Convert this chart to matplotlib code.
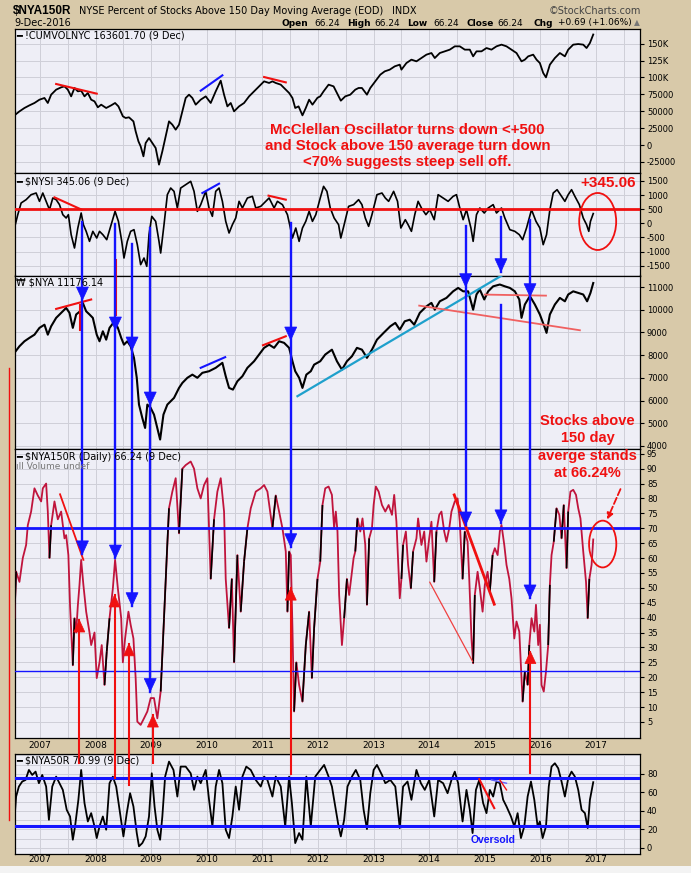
import numpy as np
import matplotlib
matplotlib.use("Agg")
import matplotlib.pyplot as plt
from matplotlib.collections import LineCollection
from matplotlib.lines import Line2D
from matplotlib.patches import Polygon, Ellipse, Rectangle
from matplotlib.ticker import FixedLocator, FixedFormatter, MultipleLocator
from matplotlib import font_manager

# ---- data (decimal year, value) ----
CUMVOL = [
    (2006.54, 44000), (2006.63, 49900), (2006.72, 54900), (2006.81, 58800), (2006.90, 62300),
    (2006.99, 67200), (2007.08, 69700), (2007.14, 62300), (2007.20, 74600), (2007.29, 82000),
    (2007.38, 85450), (2007.44, 86900), (2007.50, 82000), (2007.56, 72100), (2007.62, 84500),
    (2007.68, 79500), (2007.74, 80500), (2007.80, 72100), (2007.86, 77100), (2007.92, 67200),
    (2007.98, 64700), (2008.04, 55900), (2008.10, 59800), (2008.19, 54900), (2008.28, 58800),
    (2008.35, 62300), (2008.41, 57300), (2008.49, 42600), (2008.54, 40100), (2008.60, 41100),
    (2008.68, 35100), (2008.72, 20400), (2008.77, 5600), (2008.81, -1800), (2008.86, -16600),
    (2008.90, 3100), (2008.96, 10500), (2009.02, 3100), (2009.08, -4300), (2009.14, -28900),
    (2009.20, -9200), (2009.26, 13000), (2009.32, 35100), (2009.38, 30200), (2009.44, 22800),
    (2009.50, 30200), (2009.56, 49900), (2009.62, 69700), (2009.68, 74600), (2009.74, 69700),
    (2009.80, 59800), (2009.89, 67200), (2009.98, 72100), (2010.07, 62300), (2010.16, 79500),
    (2010.25, 95300), (2010.31, 74600), (2010.37, 57300), (2010.43, 62300), (2010.49, 49900),
    (2010.58, 57300), (2010.67, 62300), (2010.76, 72100), (2010.85, 79500), (2010.94, 86900),
    (2011.03, 94300), (2011.12, 91900), (2011.18, 94300), (2011.24, 91900), (2011.33, 89400),
    (2011.39, 84500), (2011.48, 77100), (2011.54, 69700), (2011.59, 54900), (2011.65, 57300),
    (2011.72, 44000), (2011.78, 54900), (2011.84, 67200), (2011.90, 59800), (2011.99, 70000),
    (2012.04, 72100), (2012.10, 79500), (2012.19, 89400), (2012.28, 86900), (2012.34, 77100),
    (2012.41, 65700), (2012.49, 72100), (2012.58, 74600), (2012.67, 82000), (2012.73, 84500),
    (2012.79, 84500), (2012.88, 74600), (2012.94, 84500), (2013.03, 94300), (2013.12, 104200),
    (2013.20, 109100), (2013.29, 111600), (2013.38, 116500), (2013.47, 119000), (2013.50, 111600),
    (2013.59, 121400), (2013.68, 126400), (2013.77, 123900), (2013.86, 128800), (2013.95, 133800),
    (2014.04, 136200), (2014.10, 128800), (2014.19, 136200), (2014.28, 138700), (2014.37, 141200),
    (2014.46, 146100), (2014.55, 146100), (2014.64, 141200), (2014.73, 141200), (2014.79, 131300),
    (2014.85, 138700), (2014.94, 138700), (2015.03, 143600), (2015.12, 141200), (2015.21, 146100),
    (2015.30, 148600), (2015.39, 146100), (2015.48, 141200), (2015.57, 136200), (2015.66, 123900),
    (2015.72, 126400), (2015.78, 131300), (2015.87, 133800), (2015.93, 126400), (2015.99, 121400),
    (2016.05, 106700), (2016.10, 100200), (2016.17, 119000), (2016.26, 128800), (2016.35, 136200),
    (2016.44, 131300), (2016.50, 141200), (2016.59, 148600), (2016.68, 149500), (2016.77, 148600),
    (2016.83, 143600), (2016.89, 151000), (2016.95, 163601.70),
]

NYSI = [
    (2006.54, -167), (2006.60, 306), (2006.66, 720), (2006.75, 838), (2006.84, 1015),
    (2006.93, 1074), (2006.99, 779), (2007.05, 1074), (2007.11, 779), (2007.17, 483),
    (2007.23, 897), (2007.29, 838), (2007.35, 661), (2007.41, 306), (2007.47, 188),
    (2007.51, 306), (2007.56, -403), (2007.62, -876), (2007.68, -167), (2007.74, 365),
    (2007.78, -49), (2007.83, -285), (2007.89, -640), (2007.95, -285), (2008.02, -522),
    (2008.07, -285), (2008.13, -403), (2008.20, -581), (2008.28, -49), (2008.35, 424),
    (2008.41, 69), (2008.47, -640), (2008.51, -1231), (2008.57, -640), (2008.63, -285),
    (2008.69, -226), (2008.75, -758), (2008.81, -1467), (2008.87, -1231), (2008.92, -1526),
    (2008.96, -403), (2009.01, 247), (2009.08, 69), (2009.14, -640), (2009.17, -1054),
    (2009.23, -49), (2009.29, 1015), (2009.35, 1251), (2009.41, 1133), (2009.47, 542),
    (2009.53, 1251), (2009.62, 1369), (2009.71, 1488), (2009.77, 1133), (2009.83, 424),
    (2009.89, 661), (2009.98, 1133), (2010.04, 542), (2010.10, 247), (2010.16, 1133),
    (2010.22, 1251), (2010.28, 779), (2010.34, 69), (2010.40, -344), (2010.46, -49),
    (2010.52, 188), (2010.58, 779), (2010.64, 542), (2010.73, 897), (2010.82, 956),
    (2010.88, 542), (2010.97, 601), (2011.06, 779), (2011.12, 897), (2011.21, 542),
    (2011.27, 779), (2011.36, 661), (2011.45, 306), (2011.49, -49), (2011.54, -522),
    (2011.60, -167), (2011.66, -640), (2011.72, -167), (2011.78, 69), (2011.84, 424),
    (2011.90, 69), (2011.96, 306), (2012.04, 897), (2012.10, 1310), (2012.16, 1133),
    (2012.22, 542), (2012.29, 188), (2012.37, -49), (2012.41, -522), (2012.47, -49),
    (2012.55, 601), (2012.64, 661), (2012.73, 838), (2012.79, 661), (2012.85, 188),
    (2012.91, -108), (2012.97, 306), (2013.06, 1015), (2013.15, 1074), (2013.21, 897),
    (2013.27, 779), (2013.36, 1133), (2013.43, 779), (2013.49, -167), (2013.57, 128),
    (2013.62, -49), (2013.68, -285), (2013.74, 306), (2013.80, 779), (2013.86, 542),
    (2013.94, 306), (2014.01, 483), (2014.09, 128), (2014.16, 1015), (2014.25, 897),
    (2014.34, 779), (2014.43, 956), (2014.49, 1015), (2014.55, 542), (2014.61, 128),
    (2014.67, 483), (2014.75, -167), (2014.79, -640), (2014.85, 306), (2014.91, 542),
    (2014.99, 365), (2015.06, 542), (2015.15, 661), (2015.21, 365), (2015.30, 542),
    (2015.36, 188), (2015.45, -226), (2015.54, -285), (2015.62, -403), (2015.68, -581),
    (2015.75, -167), (2015.84, 483), (2015.92, 69), (2015.99, -167), (2016.05, -758),
    (2016.11, -403), (2016.17, 483), (2016.23, 1074), (2016.30, 1192), (2016.36, 1015),
    (2016.44, 779), (2016.50, 1015), (2016.56, 1192), (2016.62, 956), (2016.70, 661),
    (2016.77, 188), (2016.83, -49), (2016.87, -285), (2016.90, 69), (2016.95, 345.06),
]

NYA = [
    (2006.54, 8100), (2006.63, 8390), (2006.72, 8610), (2006.81, 8760), (2006.90, 8900),
    (2006.99, 9200), (2007.08, 9340), (2007.14, 8900), (2007.20, 9270), (2007.29, 9640),
    (2007.38, 9860), (2007.47, 10080), (2007.53, 9860), (2007.59, 9200), (2007.65, 9790),
    (2007.72, 9930), (2007.77, 10300), (2007.83, 9930), (2007.89, 9790), (2007.95, 9640),
    (2008.02, 8900), (2008.07, 8610), (2008.13, 9050), (2008.19, 8680), (2008.25, 9200),
    (2008.34, 9490), (2008.40, 9200), (2008.46, 8760), (2008.51, 8460), (2008.57, 8610),
    (2008.63, 8390), (2008.69, 7880), (2008.74, 7000), (2008.78, 5820), (2008.84, 5230),
    (2008.89, 4790), (2008.93, 5820), (2008.99, 5675), (2009.05, 5380), (2009.11, 4790),
    (2009.16, 4280), (2009.22, 5380), (2009.29, 5820), (2009.35, 5970), (2009.41, 6115),
    (2009.50, 6555), (2009.56, 6775), (2009.65, 7000), (2009.74, 7140), (2009.83, 7000),
    (2009.92, 7220), (2010.04, 7290), (2010.16, 7440), (2010.28, 7660), (2010.34, 7070),
    (2010.40, 6555), (2010.47, 6480), (2010.55, 6850), (2010.64, 7070), (2010.73, 7440),
    (2010.85, 7730), (2010.94, 8025), (2011.03, 8320), (2011.12, 8460), (2011.21, 8320),
    (2011.30, 8610), (2011.39, 8540), (2011.48, 8320), (2011.54, 7730), (2011.59, 7290),
    (2011.66, 7000), (2011.72, 6555), (2011.79, 7140), (2011.87, 7290), (2011.93, 7580),
    (2012.04, 7730), (2012.13, 8025), (2012.25, 8240), (2012.34, 7730), (2012.43, 7360),
    (2012.52, 7730), (2012.61, 7950), (2012.70, 8320), (2012.79, 8240), (2012.88, 7880),
    (2012.97, 8240), (2013.06, 8680), (2013.18, 8980), (2013.30, 9270), (2013.39, 9420),
    (2013.47, 9120), (2013.56, 9490), (2013.65, 9560), (2013.73, 9340), (2013.83, 9860),
    (2013.95, 10150), (2014.04, 10300), (2014.10, 10000), (2014.19, 10370), (2014.31, 10520),
    (2014.43, 10810), (2014.52, 10960), (2014.61, 10810), (2014.70, 10810), (2014.79, 10000),
    (2014.85, 10670), (2014.91, 10890), (2014.99, 10450), (2015.06, 10810), (2015.15, 11030),
    (2015.27, 11110), (2015.36, 11030), (2015.45, 10960), (2015.54, 10810), (2015.62, 10450),
    (2015.66, 9640), (2015.72, 10230), (2015.81, 10600), (2015.90, 10230), (2015.99, 9790),
    (2016.08, 9200), (2016.11, 8980), (2016.17, 9790), (2016.26, 10230), (2016.35, 10520),
    (2016.44, 10370), (2016.50, 10670), (2016.59, 10810), (2016.68, 10740), (2016.77, 10670),
    (2016.84, 10370), (2016.90, 10740), (2016.95, 11176.14),
]

NYA150R = [
    (2006.54, 40), (2006.57, 55.5), (2006.63, 52), (2006.69, 60), (2006.75, 64.4),
    (2006.78, 71), (2006.84, 75.6), (2006.90, 83.4), (2006.96, 81), (2007.02, 79),
    (2007.05, 83.4), (2007.11, 85), (2007.14, 75.6), (2007.17, 60), (2007.20, 71),
    (2007.26, 79), (2007.32, 73), (2007.38, 75.6), (2007.44, 66.6), (2007.47, 67.7),
    (2007.51, 61), (2007.54, 44), (2007.59, 24), (2007.62, 39.8), (2007.65, 35),
    (2007.68, 44), (2007.71, 51), (2007.74, 59.4), (2007.78, 51), (2007.83, 42),
    (2007.89, 35), (2007.92, 30.8), (2007.98, 35), (2008.02, 19.7), (2008.07, 25),
    (2008.11, 30.8), (2008.16, 17.4), (2008.20, 28.6), (2008.25, 39.8), (2008.31, 49.8),
    (2008.35, 59.4), (2008.40, 49.8), (2008.46, 39.8), (2008.49, 25), (2008.53, 33),
    (2008.59, 42), (2008.63, 37.6), (2008.68, 33), (2008.72, 19.7), (2008.75, 5.1),
    (2008.81, 4), (2008.87, 6.2), (2008.93, 8.5), (2008.99, 13), (2009.05, 13),
    (2009.11, 6.2), (2009.17, 15.2), (2009.23, 39.8), (2009.28, 61), (2009.32, 76.7),
    (2009.38, 82.3), (2009.44, 86.8), (2009.50, 68.3), (2009.56, 90), (2009.62, 91.2),
    (2009.71, 92.4), (2009.77, 90), (2009.83, 83.4), (2009.89, 80), (2009.95, 84.5),
    (2010.01, 86.8), (2010.07, 53), (2010.13, 73), (2010.19, 82.3), (2010.25, 86.8),
    (2010.31, 75.6), (2010.34, 53), (2010.40, 36.5), (2010.45, 53), (2010.49, 25),
    (2010.55, 61), (2010.61, 42), (2010.67, 58.8), (2010.73, 70), (2010.79, 76.7),
    (2010.88, 82.3), (2010.97, 83.4), (2011.03, 84.5), (2011.09, 82.3), (2011.18, 70),
    (2011.24, 81), (2011.30, 75.6), (2011.36, 70), (2011.42, 62.2), (2011.45, 42),
    (2011.48, 62.2), (2011.51, 61), (2011.54, 36.5), (2011.57, 8.5), (2011.61, 25),
    (2011.66, 17.4), (2011.72, 11.8), (2011.78, 30.8), (2011.84, 42), (2011.89, 19.7),
    (2011.93, 36.5), (2011.99, 53), (2012.04, 58.8), (2012.08, 77.8), (2012.13, 83.4),
    (2012.19, 84), (2012.25, 81.2), (2012.29, 70), (2012.32, 75.6), (2012.35, 68.9),
    (2012.38, 47.6), (2012.43, 30.8), (2012.47, 39.8), (2012.52, 53), (2012.56, 47.6),
    (2012.61, 55.4), (2012.64, 60), (2012.67, 62.2), (2012.71, 73.3), (2012.76, 68.9),
    (2012.80, 73.3), (2012.85, 64.4), (2012.88, 44.3), (2012.92, 66.6), (2012.97, 70),
    (2013.00, 77.8), (2013.04, 84), (2013.09, 82.3), (2013.15, 77.8), (2013.21, 75.6),
    (2013.27, 77.8), (2013.33, 74.5), (2013.37, 81.2), (2013.41, 72.2), (2013.47, 46.5),
    (2013.50, 53), (2013.53, 64.4), (2013.58, 68.9), (2013.62, 57.7), (2013.67, 49.8),
    (2013.71, 62.2), (2013.77, 66.6), (2013.80, 73.3), (2013.86, 64.4), (2013.91, 68.9),
    (2013.95, 58.8), (2014.00, 66.6), (2014.04, 72.2), (2014.09, 52), (2014.13, 68.9),
    (2014.18, 74.5), (2014.22, 75.6), (2014.27, 68.9), (2014.31, 65.5), (2014.36, 70),
    (2014.40, 75.6), (2014.46, 79), (2014.51, 80), (2014.55, 72.2), (2014.60, 53),
    (2014.64, 68.9), (2014.69, 65.5), (2014.72, 53), (2014.76, 33), (2014.79, 24.7),
    (2014.82, 47.6), (2014.87, 55.4), (2014.91, 49.8), (2014.96, 42), (2015.00, 51),
    (2015.05, 55.4), (2015.09, 48.7), (2015.14, 61), (2015.18, 63.3), (2015.23, 61),
    (2015.27, 68.9), (2015.30, 71.1), (2015.35, 64.4), (2015.39, 57.7), (2015.44, 53),
    (2015.48, 46.5), (2015.53, 33), (2015.57, 38.7), (2015.62, 35.3), (2015.66, 19.7),
    (2015.68, 11.8), (2015.72, 21.9), (2015.77, 17.4), (2015.80, 30.8), (2015.84, 39.8),
    (2015.89, 35.3), (2015.92, 44.3), (2015.96, 30.8), (2015.99, 37.6), (2016.02, 17.4),
    (2016.06, 15.2), (2016.10, 21.9), (2016.14, 30.8), (2016.17, 51), (2016.20, 61),
    (2016.24, 65.5), (2016.29, 76.7), (2016.34, 74.5), (2016.38, 66.6), (2016.42, 77.8),
    (2016.47, 56.6), (2016.50, 75.6), (2016.54, 82.3), (2016.59, 82.9), (2016.64, 81.2),
    (2016.68, 76.7), (2016.72, 73.3), (2016.77, 62.2), (2016.82, 52), (2016.85, 39.8),
    (2016.88, 53), (2016.92, 57.7), (2016.95, 66.24),
]

NYA50R = [
    (2006.54, 30.4), (2006.57, 55.5), (2006.62, 66.3), (2006.68, 71.7), (2006.74, 73.4),
    (2006.80, 84.2), (2006.86, 78.8), (2006.92, 82.4), (2006.98, 69.9), (2007.04, 78.8),
    (2007.11, 66.3), (2007.16, 30.4), (2007.22, 66.3), (2007.29, 77), (2007.35, 69.9),
    (2007.41, 62.7), (2007.48, 41.2), (2007.54, 34), (2007.59, 8.9), (2007.63, 23.3),
    (2007.69, 52), (2007.74, 84.2), (2007.80, 48.4), (2007.86, 28.6), (2007.92, 37.6),
    (2007.98, 23.3), (2008.02, 10.7), (2008.07, 23.3), (2008.13, 34), (2008.19, 19.7),
    (2008.25, 69.9), (2008.31, 77), (2008.37, 66.3), (2008.43, 41.2), (2008.50, 12.5),
    (2008.56, 37.6), (2008.62, 59.1), (2008.68, 44.8), (2008.74, 16.1), (2008.78, 1.8),
    (2008.84, 5.3), (2008.90, 12.5), (2008.96, 34), (2009.01, 80.6), (2009.06, 44.8),
    (2009.11, 19.7), (2009.16, 8.9), (2009.20, 34), (2009.25, 77), (2009.32, 93.2),
    (2009.40, 84.2), (2009.47, 55.5), (2009.53, 87.8), (2009.62, 87.8), (2009.71, 80.6),
    (2009.77, 62.7), (2009.83, 77), (2009.89, 69.9), (2009.98, 84.2), (2010.04, 52),
    (2010.10, 23.3), (2010.16, 66.3), (2010.22, 84.2), (2010.28, 69.9), (2010.34, 19.7),
    (2010.40, 10.7), (2010.46, 34), (2010.52, 66.3), (2010.58, 41.2), (2010.64, 77),
    (2010.71, 87.8), (2010.79, 84.2), (2010.88, 73.4), (2010.97, 66.3), (2011.03, 77),
    (2011.09, 73.4), (2011.18, 55.5), (2011.24, 77), (2011.33, 66.3), (2011.41, 23.3),
    (2011.48, 77), (2011.53, 48.4), (2011.59, 5.3), (2011.66, 16.1), (2011.72, 8.9),
    (2011.79, 77), (2011.87, 23.3), (2011.95, 77), (2012.04, 84.2), (2012.11, 89.6),
    (2012.19, 77), (2012.25, 66.3), (2012.31, 44.8), (2012.37, 23.3), (2012.41, 12.5),
    (2012.47, 30.4), (2012.53, 66.3), (2012.61, 77), (2012.68, 84.2), (2012.76, 73.4),
    (2012.82, 41.2), (2012.88, 20.4), (2012.94, 59.1), (2013.00, 84.2), (2013.06, 89.6),
    (2013.15, 78.8), (2013.21, 69.9), (2013.30, 73.4), (2013.39, 66.3), (2013.47, 21.5),
    (2013.53, 66.3), (2013.61, 71.7), (2013.68, 52), (2013.77, 84.2), (2013.85, 69.9),
    (2013.92, 62.7), (2014.00, 73.4), (2014.09, 34), (2014.16, 73.4), (2014.25, 69.9),
    (2014.33, 59.1), (2014.40, 73.4), (2014.46, 82.4), (2014.52, 69.9), (2014.60, 28.6),
    (2014.67, 62.7), (2014.73, 41.2), (2014.78, 16.1), (2014.84, 62.7), (2014.90, 73.4),
    (2014.97, 48.4), (2015.03, 37.6), (2015.09, 62.7), (2015.15, 55.5), (2015.21, 71.7),
    (2015.27, 69.9), (2015.33, 52), (2015.39, 44.8), (2015.47, 34), (2015.53, 23.3),
    (2015.59, 37.6), (2015.65, 10.7), (2015.71, 23.3), (2015.77, 55.5), (2015.83, 71.7),
    (2015.89, 52), (2015.95, 23.3), (2015.99, 28.6), (2016.04, 10.7), (2016.10, 23.3),
    (2016.15, 66.3), (2016.20, 87.8), (2016.26, 91.4), (2016.32, 86), (2016.38, 71.7),
    (2016.44, 55.5), (2016.50, 75.2), (2016.56, 82.4), (2016.62, 77), (2016.68, 62.7),
    (2016.74, 41.2), (2016.80, 37.6), (2016.85, 21.5), (2016.89, 52), (2016.95, 70.99),
]

YEARS = list(range(2007, 2018))

# ---- look ----
W, H = 691, 873
TAN = "#d8c9a9"
FACE = "#eeeef6"
GRID = "#cfcfd8"
BLUE = "#1414ff"
RED = "#f01010"
CRIMSON = "#c0143c"


def has_font(name):
    try:
        font_manager.findfont(name, fallback_to_default=False)
        return True
    except ValueError:
        return False


SANS = ["Liberation Sans", "DejaVu Sans"]
NARROW = ["Liberation Sans Narrow"] + SANS if has_font("Liberation Sans Narrow") else SANS
NARROW_SCALE = 1.15 if NARROW[0] == "Liberation Sans Narrow" else 1.0
UI = ["DejaVu Sans"]

fig = plt.figure(figsize=(W / 100, H / 100), dpi=100, facecolor=TAN)
L, R = 14.5, 640.0


def px_rect(top, bottom):
    return [L / W, 1 - bottom / H, (R - L) / W, (bottom - top) / H]


def fpx(x, y):
    return x / W, 1 - y / H


panels = [
    ((29.3, 173.3), (-41720, 171300)),
    ((173.3, 275.5), (-1851, 1773)),
    ((275.5, 449.0), (3864, 11507)),
    ((449.0, 738.0), (-0.4, 96.6)),
    ((754.0, 854.3), (-6.8, 101.4)),
]
yticks = [
    [-25000, 0, 25000, 50000, 75000, 100000, 125000, 150000],
    [-1500, -1000, -500, 0, 500, 1000, 1500],
    list(range(4000, 11001, 1000)),
    list(range(5, 96, 5)),
    [0, 20, 40, 60, 80],
]
ylabels = [
    ["-25000", "0", "25000", "50000", "75000", "100K", "125K", "150K"],
    [str(v) for v in yticks[1]],
    [str(v) for v in yticks[2]],
    [str(v) for v in yticks[3]],
    [str(v) for v in yticks[4]],
]

axes = []
for i, ((top, bot), ylim) in enumerate(panels):
    ax = fig.add_axes(px_rect(top, bot), facecolor=FACE)
    ax.set_xlim(2006.541, 2017.791)
    ax.set_ylim(*ylim)
    ax.xaxis.set_major_locator(FixedLocator(YEARS))
    ax.xaxis.set_minor_locator(FixedLocator([y + 0.5 for y in range(2006, 2018)]))
    ax.grid(True, which="both", axis="x", color=GRID, lw=0.7)
    ax.yaxis.set_major_locator(FixedLocator(yticks[i]))
    ax.yaxis.set_major_formatter(FixedFormatter(ylabels[i]))
    if i == 4:
        ax.yaxis.set_minor_locator(MultipleLocator(10))
        ax.grid(True, which="minor", axis="y", color=GRID, lw=0.7)
    ax.grid(True, which="major", axis="y", color=GRID, lw=0.7)
    ax.set_axisbelow(True)
    ax.yaxis.tick_right()
    ax.tick_params(axis="y", which="major", labelsize=6, length=3, pad=2, colors="black")
    ax.tick_params(axis="y", which="minor", length=0)
    ax.tick_params(axis="x", which="both", length=0)
    for lab in ax.get_yticklabels():
        lab.set_family(UI)
    if i in (3, 4):
        ax.set_xticklabels([str(y) for y in YEARS], fontsize=6.5, family=UI)
        ax.tick_params(axis="x", pad=2 if i == 3 else 0.5)
    else:
        ax.set_xticklabels([])
    for s in ax.spines.values():
        s.set_color("black")
        s.set_linewidth(0.9)
    axes.append(ax)

ax1, ax2, ax3, ax4, ax5 = axes


def xy(series):
    t, v = zip(*series)
    return np.array(t), np.array(v)


t, v = xy(CUMVOL)
ax1.plot(t, v, color="black", lw=1.3)
t, v = xy(NYSI)
ax2.plot(t, v, color="black", lw=1.2)
t, v = xy(NYA)
ax3.plot(t, v, color="black", lw=1.5)

t, v = xy(NYA150R)
ax4.plot(t, v, color=CRIMSON, lw=1.3, zorder=3)
segs = [[(t[k], v[k]), (t[k + 1], v[k + 1])] for k in range(len(t) - 1) if v[k + 1] - v[k] > 10]
ax4.add_collection(LineCollection(segs, colors="black", lw=1.2, zorder=3))

t, v = xy(NYA50R)
ax5.plot(t, v, color="black", lw=1.3)

# ---- reference lines / trend lines ----
ax2.axhline(500, color=RED, lw=2, zorder=4)
ax4.axhline(70, color=BLUE, lw=2, zorder=4)
ax4.axhline(22, color=BLUE, lw=1, zorder=4)
ax5.axhline(75, color=BLUE, lw=2.2, zorder=4)
ax5.axhline(24, color=BLUE, lw=2.2, zorder=4)

trend = [
    (ax1, (2007.29, 2008.02), (90400, 76100), RED, 1.5),
    (ax1, (2009.89, 2010.28), (80500, 103200), BLUE, 1.5),
    (ax1, (2011.03, 2011.42), (100700, 92800), RED, 1.5),
    (ax2, (2007.26, 2007.75), (920, 483), RED, 1.5),
    (ax2, (2009.92, 2010.22), (1074, 1405), BLUE, 1.5),
    (ax2, (2011.11, 2011.42), (980, 838), RED, 1.5),
    (ax3, (2007.29, 2007.92), (10035, 10450), RED, 1.5),
    (ax3, (2009.89, 2010.33), (7440, 7910), BLUE, 1.5),
    (ax3, (2011.01, 2011.42), (8435, 8830), RED, 1.5),
    (ax3, (2011.63, 2015.30), (6190, 11500), "#1ea0cc", 1.6),
    (ax3, (2013.82, 2016.71), (10180, 9095), "#f06060", 1.3),
    (ax3, (2015.00, 2016.10), (10666, 10620), "#f06060", 1.3),
    (ax4, (2007.36, 2007.78), (81.4, 59.4), RED, 1.3),
    (ax4, (2014.45, 2015.17), (81.2, 44.5), RED, 2.0),
    (ax4, (2014.01, 2014.78), (51.9, 25.3), "#f04040", 0.9),
    (ax5, (2014.90, 2015.17), (74.2, 43.0), RED, 1.5),
    (ax5, (2015.12, 2015.39), (73.4, 69.9), "#6060ff", 1.0),
    (ax5, (2015.27, 2015.39), (73.4, 62.7), RED, 1.0),
]
for ax, xs, ys, c, lw in trend:
    ax.plot(xs, ys, color=c, lw=lw, zorder=5)

ax2.add_patch(Ellipse((2017.03, 64), 0.665, 2021, fill=False, ec=RED, lw=1.3, zorder=5))
ax4.add_patch(Ellipse((2017.12, 64.7), 0.49, 15.7, fill=False, ec=RED, lw=1.3, zorder=5))
ax4.annotate("", xy=(2017.18, 72.1), xytext=(2017.46, 84.0),
             arrowprops=dict(arrowstyle="-|>", color=RED, lw=1.3, ls="--",
                             mutation_scale=9), zorder=6)

# ---- vertical signal arrows spanning panels ----
fig.canvas.draw()


def fig_xy(ax, x, y):
    return fig.transFigure.inverted().transform(ax.transData.transform((x, y)))


def vseg(x, a0, y0, a1, y1, color, lw):
    p0 = fig_xy(axes[a0], x, y0)
    p1 = fig_xy(axes[a1], x, y1)
    fig.add_artist(Line2D([p0[0], p1[0]], [p0[1], p1[1]], color=color, lw=lw,
                          transform=fig.transFigure, zorder=20))


def head(x, a, y, color, down, w=12, h=13):
    fx, fy = fig_xy(axes[a], x, y)
    dx, dy = w / 2 / W, h / H
    sgn = 1 if down else -1
    pts = [(fx, fy), (fx - dx, fy + sgn * dy), (fx + dx, fy + sgn * dy)]
    fig.add_artist(Polygon(pts, closed=True, fc=color, ec=color, lw=0.5,
                           transform=fig.transFigure, zorder=21))


blue_segs = [
    (2007.763, 1, 57, 3, 61.4), (2008.356, 1, -25, 3, 60), (2008.655, 1, -734, 3, 44),
    (2008.982, 1, -156, 3, 15.2), (2011.509, 1, 0, 3, 63.8), (2014.655, 1, -96, 3, 71.1),
    (2015.290, 1, 234, 1, -1716), (2015.290, 2, 10207, 3, 71.8), (2015.813, 1, 117, 3, 46.6),
]
blue_heads = [
    (2007.763, 2, 10427), (2007.763, 3, 61.4), (2008.356, 2, 9106), (2008.356, 3, 60),
    (2008.655, 2, 8225), (2008.655, 3, 44), (2008.982, 2, 5802), (2008.982, 3, 15.2),
    (2011.509, 2, 8665), (2011.509, 3, 63.8), (2014.655, 2, 11013), (2014.655, 3, 71.1),
    (2015.290, 1, -1716), (2015.290, 3, 71.8), (2015.813, 2, 10573), (2015.813, 3, 46.6),
]
red_segs = [
    (2007.707, 4, 91.7, 3, 39.2), (2008.340, 4, 75.6, 3, 47.6), (2008.600, 4, 68, 3, 31.2),
    (2009.030, 4, 91.7, 3, 7.3), (2011.510, 4, 79.9, 3, 49.9), (2015.820, 4, 81, 3, 28.6),
    (2008.365, 1, -1290, 2, 9767), (2007.722, 2, 10207, 2, 9106),
]
red_heads = [
    (2007.707, 3, 39.2), (2008.340, 3, 47.6), (2008.600, 3, 31.2),
    (2009.030, 3, 7.3), (2011.510, 3, 49.9), (2015.820, 3, 28.6),
]
for s in red_segs:
    vseg(*s, RED, 1.5)
for x, a, y in red_heads:
    head(x, a, y, RED, down=False, w=11, h=12)
for s in blue_segs:
    vseg(*s, BLUE, 1.7)
for x, a, y in blue_heads:
    head(x, a, y, BLUE, down=True)

# red mark along the left edge
fig.add_artist(Line2D([8.5 / W, 8.5 / W], [1 - 368 / H, 1 - 820 / H], color=RED, lw=1,
                      transform=fig.transFigure))

# ---- text ----
fig.text(*fpx(13, 11), "$NYA150R", fontsize=8.5, fontweight="bold", family=SANS, va="center")
fig.text(*fpx(79, 11), "NYSE Percent of Stocks Above 150 Day Moving Average (EOD)",
         fontsize=7, family=UI, va="center")
fig.text(*fpx(392, 11), "INDX", fontsize=7, family=UI, va="center")
fig.text(*fpx(641, 11), "\u00a9StockCharts.com", fontsize=7, family=UI, va="center",
         ha="right", color="#444444")
fig.text(*fpx(14, 23), "9-Dec-2016", fontsize=7, family=UI, va="center")
row = [("Open", True, 282), ("66.24", False, 314), ("High", True, 347), ("66.24", False, 374),
       ("Low", True, 407.5), ("66.24", False, 433), ("Close", True, 467), ("66.24", False, 497),
       ("Chg", True, 534), ("+0.69 (+1.06%)", False, 558), ("\u25b2", False, 634)]
for txt, bold, xpos in row:
    fig.text(*fpx(xpos, 23), txt, fontsize=6.5 if txt != "\u25b2" else 5.5, family=UI,
             va="center", fontweight="bold" if bold else "normal",
             color="#777777" if txt == "\u25b2" else "black")

legend_txt = [
    (35.5, "\u2501 !CUMVOLNYC 163601.70 (9 Dec)"),
    (181.7, "\u2501 $NYSI 345.06 (9 Dec)"),
    (282.7, "\u20a9 $NYA 11176.14"),
    (456.7, "\u2501 $NYA150R (Daily) 66.24 (9 Dec)"),
    (760.7, "\u2501 $NYA50R 70.99 (9 Dec)"),
]
for ypos, txt in legend_txt:
    fig.text(*fpx(16, ypos), txt, fontsize=7, family=UI, va="center", zorder=25)
fig.text(*fpx(16, 466.7), "\u0131ll Volume undef", fontsize=6.5, family=UI, va="center",
         color="#777777", zorder=25)

fig.text(*fpx(407.5, 146), "McClellan Oscillator turns down <+500\n"
         "and Stock above 150 average turn down\n<70% suggests steep sell off.",
         fontsize=10.8 * NARROW_SCALE, fontweight="bold", family=NARROW, color=RED,
         ha="center", va="center", linespacing=1.22, zorder=25)
fig.text(*fpx(608, 183), "+345.06", fontsize=11 * NARROW_SCALE, fontweight="bold",
         family=NARROW, color=RED, ha="center", va="center", zorder=25)
fig.text(*fpx(587.5, 447), "Stocks above\n150 day\naverge stands\nat 66.24%",
         fontsize=10.5 * NARROW_SCALE, fontweight="bold", family=NARROW, color=RED,
         ha="center", va="center", linespacing=1.3, zorder=25)
fig.text(*fpx(493, 840), "Oversold", fontsize=7.5, fontweight="bold", family=SANS,
         color=BLUE, ha="center", va="center", zorder=25)

# footer strip
fig.add_artist(Rectangle((0, 0), 1, 7 / H, transform=fig.transFigure, fc="#f3f3f3",
                         ec="none"))

fig.savefig("out.png", dpi=100, facecolor=TAN)
